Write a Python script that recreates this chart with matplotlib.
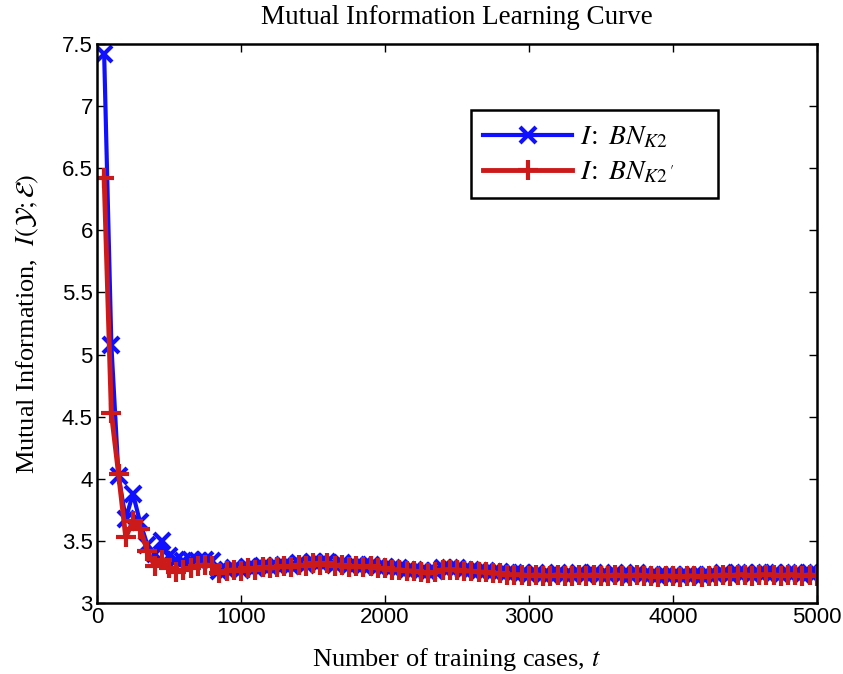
import numpy as np
import matplotlib
matplotlib.use('Agg')
import matplotlib.pyplot as plt

plt.rcParams['mathtext.fontset'] = 'stix'

t = np.arange(50, 5001, 50)

bn_k2 = [7.42, 5.08, 4.02, 3.68, 3.88, 3.65, 3.47, 3.40, 3.50, 3.38,
         3.35, 3.34, 3.35, 3.34, 3.35, 3.34, 3.26, 3.27, 3.28, 3.27,
         3.29, 3.28, 3.30, 3.29, 3.30, 3.31, 3.30, 3.32, 3.31, 3.33,
         3.32, 3.33, 3.31, 3.32, 3.30, 3.31, 3.30, 3.31, 3.29, 3.29,
         3.28, 3.28, 3.27, 3.27, 3.26, 3.25, 3.26, 3.28, 3.28, 3.28,
         3.27, 3.27, 3.26, 3.26, 3.25, 3.25, 3.24, 3.24, 3.24, 3.23,
         3.24, 3.23, 3.23, 3.24, 3.23, 3.23, 3.24, 3.23, 3.24, 3.23,
         3.23, 3.24, 3.23, 3.23, 3.24, 3.23, 3.23, 3.22, 3.23, 3.23,
         3.22, 3.23, 3.23, 3.22, 3.23, 3.23, 3.24, 3.23, 3.24, 3.24,
         3.23, 3.24, 3.24, 3.24, 3.23, 3.24, 3.24, 3.23, 3.24, 3.24]

bn_k2p = [6.42, 4.53, 4.04, 3.53, 3.66, 3.60, 3.42, 3.30, 3.35, 3.28,
          3.25, 3.27, 3.28, 3.30, 3.31, 3.30, 3.24, 3.26, 3.27, 3.26,
          3.28, 3.27, 3.29, 3.28, 3.29, 3.30, 3.29, 3.31, 3.30, 3.32,
          3.31, 3.32, 3.30, 3.31, 3.29, 3.30, 3.29, 3.30, 3.28, 3.28,
          3.27, 3.27, 3.26, 3.26, 3.25, 3.24, 3.25, 3.27, 3.27, 3.27,
          3.26, 3.26, 3.25, 3.25, 3.24, 3.24, 3.23, 3.23, 3.23, 3.22,
          3.23, 3.22, 3.22, 3.23, 3.22, 3.22, 3.23, 3.22, 3.23, 3.22,
          3.22, 3.23, 3.22, 3.22, 3.23, 3.22, 3.22, 3.21, 3.22, 3.22,
          3.21, 3.22, 3.22, 3.21, 3.22, 3.22, 3.23, 3.22, 3.23, 3.23,
          3.22, 3.23, 3.23, 3.23, 3.22, 3.23, 3.23, 3.22, 3.23, 3.22]

fig = plt.figure(figsize=(8.43, 6.74), dpi=100)
ax = fig.add_axes([0.115, 0.105, 0.854, 0.83])

ax.plot(t, bn_k2, color='#1010ff', lw=3, marker='x', ms=11, mew=3,
        label=r'$I\!:\ BN_{K\mathit{2}}$' + '\u2003\u2002')
ax.plot(t, bn_k2p, color='#cc1a1a', lw=3.5, marker='+', ms=14, mew=3,
        label=r"$I\!:\ BN_{K\mathit{2}\,'}$" + '\u2003\u2002')

ax.set_xlim(0, 5000)
ax.set_ylim(3, 7.5)
ax.set_xticks(range(0, 5001, 1000))
ax.set_yticks(np.arange(3, 7.51, 0.5))
ax.set_yticklabels(['3', '3.5', '4', '4.5', '5', '5.5', '6', '6.5', '7', '7.5'])
ax.tick_params(direction='in', labelsize=16, width=1, length=6, pad=3,
               top=True, right=True, labeltop=False, labelright=False)
for lab in ax.get_xticklabels() + ax.get_yticklabels():
    lab.set_family('Liberation Sans')
for sp in ax.spines.values():
    sp.set_linewidth(1.8)

ax.set_title('Mutual Information Learning Curve', family='Liberation Serif',
             fontsize=19.5, pad=14)
ax.set_xlabel(r'Number of training cases, $t$', family='Liberation Serif',
              fontsize=19, labelpad=13)
ax.set_ylabel(r'Mutual Information,  $I(\mathcal{Y};\mathcal{E})$',
              family='Liberation Serif', fontsize=19, labelpad=15)

leg = ax.legend(loc='upper right', bbox_to_anchor=(0.8625, 0.882), borderaxespad=0,
                fontsize=20, fancybox=False, edgecolor='black', framealpha=1,
                handlelength=3.2, handletextpad=0.3, borderpad=0.45, labelspacing=0.25)
leg.get_frame().set_linewidth(1.8)

fig.savefig('out.png', dpi=100)
